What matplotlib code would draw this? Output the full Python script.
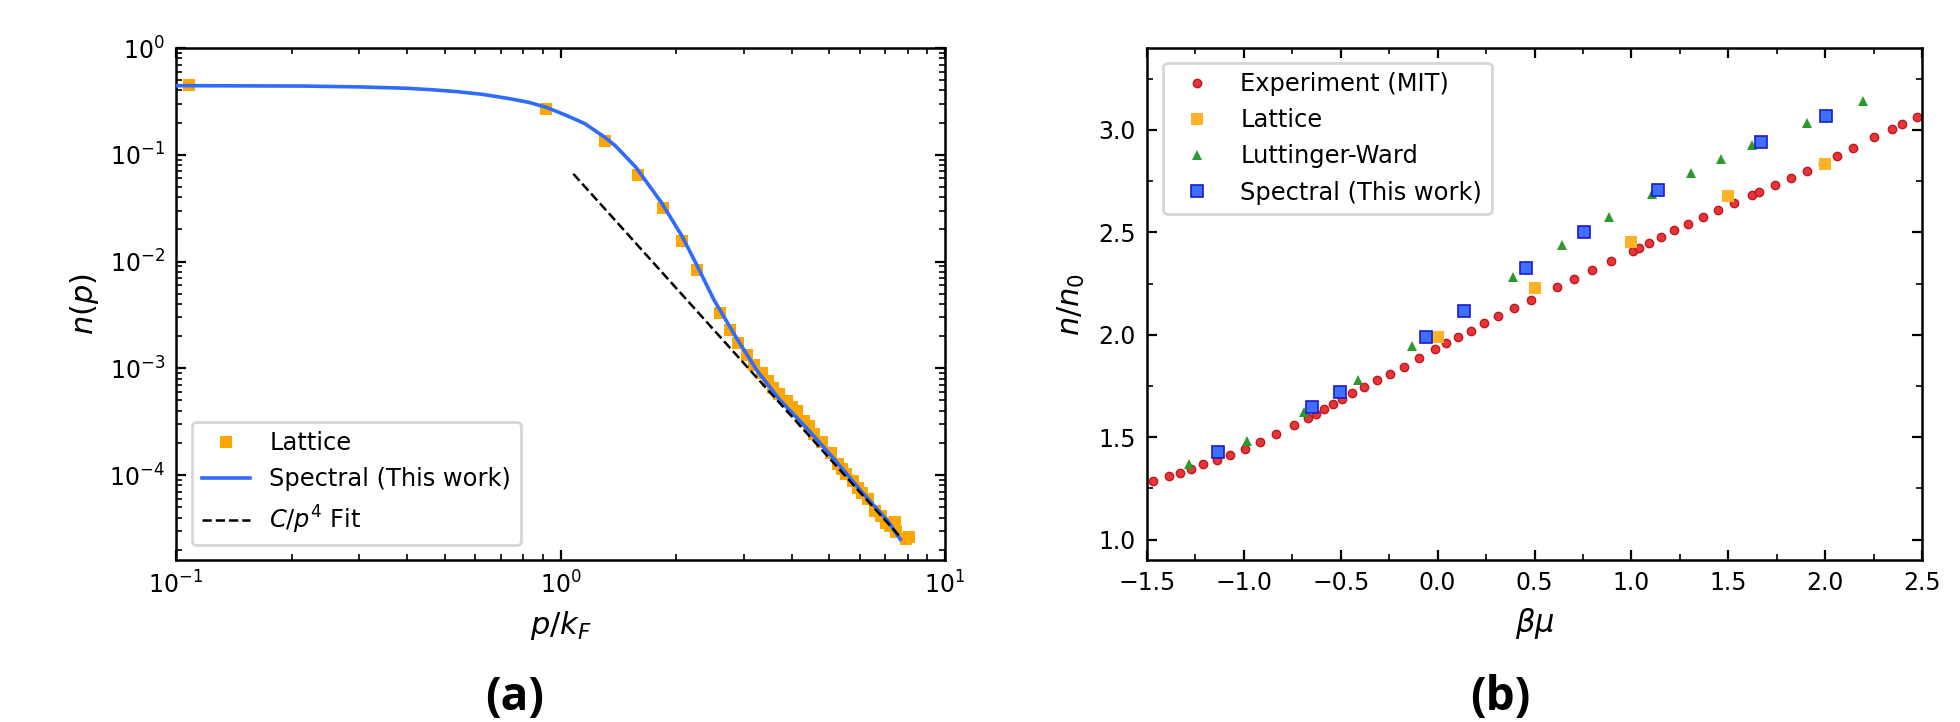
import matplotlib
matplotlib.use("Agg")
import matplotlib.pyplot as plt
from matplotlib.ticker import AutoMinorLocator, LogLocator, NullFormatter

# ---------------- Panel (a) data ----------------
lattice_p = [0.108, 0.919, 1.306, 1.595, 1.847, 2.068, 2.26, 2.60, 2.76, 2.90,
             3.05, 3.19, 3.34, 3.46, 3.58, 3.69, 3.89, 4.01, 4.13, 4.30,
             4.42, 4.57, 4.80, 5.05, 5.26, 5.40, 5.53, 5.75, 5.93, 6.10,
             6.30, 6.56, 6.80, 7.04, 7.20, 7.40, 7.45, 7.90, 8.07]
lattice_n = [0.451, 0.266, 0.1355, 0.0648, 0.0314, 0.01567, 0.0084, 0.00328, 0.00228, 0.00171,
             0.00133, 0.00108, 0.000903, 0.00076, 0.00066, 0.000577, 0.000499, 0.00043, 0.000402, 0.000323,
             0.00029, 0.000242, 0.000202, 0.000162, 0.000126, 0.000115, 0.000102, 8.8e-5, 7.6e-5, 6.8e-5,
             5.9e-5, 4.57e-5, 4.1e-5, 3.55e-5, 3.3e-5, 3.65e-5, 2.9e-5, 2.5e-5, 2.6e-5]

spectral_p = [0.1, 0.215, 0.30, 0.396, 0.47, 0.538, 0.627, 0.731, 0.826, 0.919,
              1.023, 1.156, 1.307, 1.39, 1.57, 1.83, 2.07, 2.27, 2.506, 2.857,
              3.24, 3.73, 4.39, 5.15, 6.05, 7.11, 7.65]
spectral_n = [0.444, 0.44, 0.432, 0.42, 0.405, 0.39, 0.368, 0.337, 0.31, 0.278,
              0.238, 0.196, 0.145, 0.121, 0.0765, 0.0357, 0.0173, 0.00903, 0.00438, 0.00197,
              0.000957, 0.000499, 0.00027, 0.000141, 7.07e-5, 3.68e-5, 2.5e-5]

fit_p = [1.08, 7.65]
fit_n = [0.0662, 2.63e-5]

# ---------------- Panel (b) data ----------------
exp_bmu = [-1.469, -1.387, -1.328, -1.274, -1.209, -1.141, -1.070, -0.994, -0.915, -0.833,
           -0.740, -0.669, -0.629, -0.584, -0.539, -0.494, -0.440, -0.378, -0.313, -0.245,
           -0.171, -0.098, -0.016, 0.043, 0.103, 0.171, 0.239, 0.312, 0.394, 0.482,
           0.617, 0.705, 0.795, 0.897, 1.007, 1.038, 1.092, 1.152, 1.219, 1.290,
           1.369, 1.448, 1.530, 1.621, 1.660, 1.742, 1.822, 1.909, 1.991, 2.059,
           2.144, 2.251, 2.345, 2.398, 2.472]
exp_n = [1.284, 1.308, 1.324, 1.344, 1.367, 1.386, 1.415, 1.444, 1.477, 1.514,
         1.558, 1.592, 1.613, 1.639, 1.663, 1.688, 1.715, 1.746, 1.777, 1.809,
         1.843, 1.884, 1.928, 1.960, 1.989, 2.020, 2.056, 2.092, 2.132, 2.171,
         2.231, 2.270, 2.314, 2.359, 2.408, 2.423, 2.450, 2.479, 2.509, 2.541,
         2.573, 2.607, 2.645, 2.684, 2.698, 2.731, 2.765, 2.799, 2.836, 2.872,
         2.914, 2.963, 3.003, 3.031, 3.063]

lat_bmu = [0.0, 0.5, 1.0, 1.5, 2.0]
lat_n = [1.99, 2.23, 2.453, 2.676, 2.835]

lw_bmu = [-1.285, -0.983, -0.689, -0.409, -0.132, 0.391, 0.643, 0.883, 1.106, 1.307,
          1.463, 1.621, 1.904, 2.198]
lw_n = [1.368, 1.483, 1.623, 1.779, 1.946, 2.281, 2.436, 2.573, 2.687, 2.789,
        2.857, 2.925, 3.034, 3.141]

spec_bmu = [-1.135, -0.649, -0.505, -0.061, 0.134, 0.456, 0.753, 1.135, 1.669, 2.005]
spec_n = [1.425, 1.647, 1.722, 1.991, 2.116, 2.324, 2.502, 2.708, 2.940, 3.068]

# ---------------- Figure ----------------
plt.rcParams['font.family'] = ['DejaVu Sans']
plt.rcParams['mathtext.fontset'] = 'dejavusans'

W, H = 1960, 722
fig = plt.figure(figsize=(W / 200, H / 200), dpi=200)

def px_axes(x0, y0, x1, y1):
    return fig.add_axes([x0 / W, 1 - y1 / H, (x1 - x0) / W, (y1 - y0) / H])

axa = px_axes(176, 48, 945, 560)
axb = px_axes(1147, 48, 1922, 560)

tick_fs = 8.5
label_fs = 11
leg_fs = 8.7

# Panel (a)
axa.plot(lattice_p, lattice_n, 's', color='#FFA500', ms=4.2, mew=0, label='Lattice', zorder=2)
axa.plot(spectral_p, spectral_n, '-', color='#2F6BFF', lw=1.3, label='Spectral (This work)', zorder=3)
axa.plot(fit_p, fit_n, '--', color='black', lw=0.9, label=r'$C/p^4$ Fit', zorder=4)
axa.set_xscale('log')
axa.set_yscale('log')
axa.set_xlim(0.1, 10)
axa.set_ylim(1.6e-5, 1.0)
axa.yaxis.set_major_locator(LogLocator(base=10, numticks=10))
axa.yaxis.set_minor_locator(LogLocator(base=10, subs=[2, 3, 4, 5, 6, 7, 8, 9], numticks=20))
axa.yaxis.set_minor_formatter(NullFormatter())
axa.set_xlabel(r'$p/k_F$', fontsize=label_fs, labelpad=4)
axa.set_ylabel(r'$n(p)$', fontsize=label_fs, labelpad=3)
axa.legend(loc='lower left', fontsize=leg_fs, numpoints=1, bbox_to_anchor=(0.005, 0.005))

# Panel (b)
axb.plot(exp_bmu, exp_n, 'o', color='#E8353A', mec='#C0181C', mew=0.5, ms=3.0,
         label='Experiment (MIT)', zorder=2)
axb.plot(lat_bmu, lat_n, 's', color='#FFB226', mew=0, ms=4.0, label='Lattice', zorder=3)
axb.plot(lw_bmu, lw_n, '^', color='#2E9A2E', mew=0, ms=3.8, label='Luttinger-Ward', zorder=3)
axb.plot(spec_bmu, spec_n, 's', color='#3F6FFF', mec='#1A1ACC', mew=0.6, ms=4.2,
         label='Spectral (This work)', zorder=4)
axb.set_xlim(-1.5, 2.5)
axb.set_ylim(0.9, 3.4)
axb.set_xticks([-1.5, -1.0, -0.5, 0.0, 0.5, 1.0, 1.5, 2.0, 2.5])
axb.set_yticks([1.0, 1.5, 2.0, 2.5, 3.0])
axb.xaxis.set_minor_locator(AutoMinorLocator(2))
axb.yaxis.set_minor_locator(AutoMinorLocator(2))
axb.set_xlabel(r'$\beta\mu$', fontsize=label_fs, labelpad=4)
axb.set_ylabel(r'$n/n_0$', fontsize=label_fs, labelpad=4)
axb.legend(loc='upper left', fontsize=leg_fs, numpoints=1, bbox_to_anchor=(0.005, 0.995))

for ax in (axa, axb):
    ax.tick_params(which='both', direction='in', top=True, right=True, labelsize=tick_fs)
    ax.tick_params(which='major', length=3.5, width=0.8, pad=4)
    ax.tick_params(which='minor', length=2.0, width=0.6)
    for s in ax.spines.values():
        s.set_linewidth(0.9)

for lab, xc in (('(a)', 515), ('(b)', 1500)):
    fig.text(xc / W, 1 - 697 / H, lab, ha='center', va='center', fontsize=16.5,
             fontweight='bold', family=['Open Sans', 'Lato', 'DejaVu Sans'])

fig.savefig('out.png', dpi=200)
